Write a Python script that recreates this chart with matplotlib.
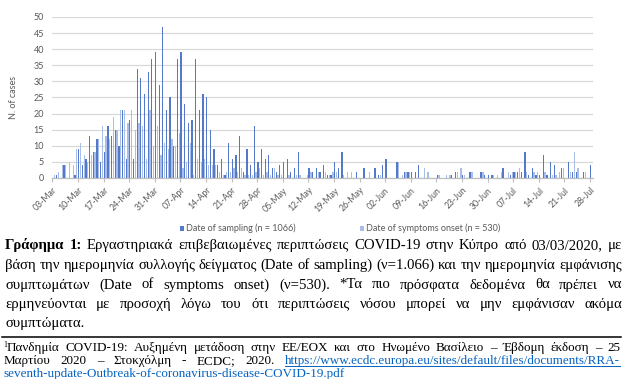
import datetime as dt
import matplotlib
matplotlib.use("Agg")
import matplotlib.pyplot as plt
import numpy as np
from matplotlib.patches import Rectangle
from matplotlib.lines import Line2D

# ---------------- data ----------------
start_date = dt.date(2020, 3, 3)
n_days = 148  # 03-Mar .. 28-Jul

sampling = [
    0, 1, 0, 4, 0, 0, 1, 9, 4, 6, 13, 8, 12, 5,
    8, 16, 13, 15, 10, 21, 6, 18, 6, 34, 31, 26, 33, 37,
    39, 29, 47, 21, 25, 10, 37, 39, 23, 17, 18, 37, 21, 26,
    25, 15, 9, 4, 6, 1, 11, 6, 7, 13, 2, 9, 4, 16,
    5, 9, 6, 7, 3, 2, 4, 5, 6, 2, 3, 8, 0, 0,
    3, 2, 3, 2, 4, 1, 1, 5, 3, 8, 0, 0, 0, 2,
    0, 3, 0, 0, 3, 1, 4, 6, 0, 0, 5, 0, 2, 2,
    2, 2, 4, 0, 0, 0, 0, 1, 0, 0, 0, 1, 2, 0,
    1, 0, 2, 0, 0, 2, 1, 1, 1, 0, 0, 3, 0, 1,
    2, 2, 2, 8, 1, 3, 1, 1, 7, 1, 5, 4, 0, 3,
    0, 5, 2, 2, 0, 2, 0, 4,
]
onset = [
    1, 2, 4, 4, 5, 4, 9, 11, 7, 5, 7, 8, 12, 16,
    13, 12, 19, 15, 21, 21, 17, 21, 15, 17, 16, 6, 21, 10,
    16, 7, 11, 9, 12, 10, 14, 3, 5, 11, 1, 6, 5, 6,
    4, 4, 4, 2, 1, 2, 2, 3, 2, 3, 1, 1, 1, 2,
    3, 1, 2, 1, 3, 1, 1, 0, 1, 0, 1, 1, 0, 1,
    2, 0, 2, 0, 2, 1, 2, 2, 0, 1, 2, 2, 0, 0,
    0, 0, 2, 0, 0, 1, 0, 0, 0, 0, 5, 1, 2, 2,
    0, 0, 0, 3, 2, 0, 0, 1, 0, 1, 1, 0, 2, 3,
    1, 0, 2, 0, 0, 2, 0, 0, 1, 1, 2, 0, 2, 2,
    2, 3, 0, 2, 0, 2, 2, 0, 2, 0, 1, 1, 2, 3,
    0, 2, 8, 3, 0, 2, 0, 0,
]
series_labels = ["Date of sampling (n = 1066)", "Date of symptoms onset (n = 530)"]
y_label = "N. of cases"
y_ticks = list(range(0, 51, 5))
tick_every = 7

caption_lines = [
    [("Γράφημα", "b"), ("1:", "b"), ("Εργαστηριακά", ""), ("επιβεβαιωμένες", ""), ("περιπτώσεις", ""),
     ("COVID-19", ""), ("στην", ""), ("Κύπρο", ""), ("από", ""), ("03/03/2020,", ""), ("με", "")],
    "βάση την ημερομηνία συλλογής δείγματος (Date of sampling) (ν=1.066) και την ημερομηνία εμφάνισης",
    "συμπτωμάτων (Date of symptoms onset) (ν=530). *Τα πιο πρόσφατα δεδομένα θα πρέπει να",
    "ερμηνεύονται με προσοχή λόγω του ότι περιπτώσεις νόσου μπορεί να μην εμφάνισαν ακόμα",
    "συμπτώματα.",
]
footnote_line1 = "Πανδημία COVID-19: Αυξημένη μετάδοση στην ΕΕ/ΕΟΧ και στο Ηνωμένο Βασίλειο – Έβδομη έκδοση – 25"
footnote_line2 = "Μαρτίου 2020 – Στοκχόλμη - ECDC; 2020."
footnote_url1 = "https://www.ecdc.europa.eu/sites/default/files/documents/RRA-"
footnote_url2 = "seventh-update-Outbreak-of-coronavirus-disease-COVID-19.pdf"

# ---------------- figure ----------------
W, H = 633, 379
fig = plt.figure(figsize=(W / 100, H / 100), dpi=100)
fig.patch.set_facecolor("white")

def fx(px):
    return px / W

def fy(py):
    return 1 - py / H

SANS = ["Lato", "DejaVu Sans"]
SERIF = ["Liberation Serif", "DejaVu Serif"]
GREY = "#595959"
C_SAMP = "#5479C8"
C_ONS = "#A9BEE8"

x0_px, x1_px = 52.3, 593.0
y0_px, y50_px = 178.0, 17.0
ax = fig.add_axes([fx(x0_px), fy(y0_px), (x1_px - x0_px) / W, (y0_px - y50_px) / H])

x = np.arange(n_days)
ax.bar(x + 0.2, sampling, width=0.34, color=C_SAMP, linewidth=0, zorder=3)
ax.bar(x + 0.7, onset, width=0.34, color=C_ONS, linewidth=0, zorder=3)

ax.set_xlim(0, 147.8)
ax.set_ylim(0, 50)
ax.set_yticks(y_ticks)
ax.yaxis.grid(True, color="#D9D9D9", linewidth=0.9, zorder=0)
ax.set_axisbelow(True)
for s in ["top", "right", "left"]:
    ax.spines[s].set_visible(False)
ax.spines["bottom"].set_color("#BFBFBF")
ax.spines["bottom"].set_linewidth(0.9)

tick_pos = list(range(0, n_days, tick_every))
tick_lbl = [(start_date + dt.timedelta(days=i)).strftime("%d-%b") for i in tick_pos]
ax.set_xticks(tick_pos)
ax.set_xticklabels(tick_lbl, rotation=45, ha="right", va="top", rotation_mode="anchor",
                   fontsize=6.3, family=SANS, color=GREY)
ax.tick_params(axis="x", length=3, color="#BFBFBF", width=0.8, pad=2.5)
ax.tick_params(axis="y", length=0, pad=6, labelsize=6.5, labelcolor=GREY)
for t in ax.get_yticklabels():
    t.set_family(SANS)

fig.text(fx(14), fy(97), y_label, rotation=90, ha="center", va="center",
         fontsize=6.5, family=SANS, color=GREY)

# legend
for (lx, col, lab) in [(179.5, C_SAMP, series_labels[0]), (359.5, C_ONS, series_labels[1])]:
    fig.patches.append(Rectangle((fx(lx), fy(230.5)), 4.5 / W, 4.5 / H,
                                 transform=fig.transFigure, color=col, linewidth=0))
    fig.text(fx(lx + 7), fy(228.5), lab, ha="left", va="center", fontsize=6.5,
             family=SANS, color=GREY)

# ---------------- justified text ----------------
renderer = fig.canvas.get_renderer()

def text_width(s, size, weight="normal"):
    t = fig.text(0, 0, s, fontsize=size, family=SERIF, fontweight=weight)
    w = t.get_window_extent(renderer).width
    t.remove()
    return w

def draw_line(words, baseline, xl, xr, size, justify=True):
    ws = []
    for w in words:
        ws.append(text_width(w["s"], w.get("size", size), w.get("weight", "normal")))
    space = text_width("a a", size) - text_width("aa", size)
    n_gaps = sum(1 for w in words[:-1] if not w.get("join"))
    if justify and n_gaps > 0:
        gap = (xr - xl - sum(ws)) / n_gaps
    else:
        gap = space
    cx = xl
    for w, wd in zip(words, ws):
        col = w.get("color", "black")
        fig.text(fx(cx), fy(baseline - w.get("dy", 0)), w["s"], fontsize=w.get("size", size),
                 family=SERIF, fontweight=w.get("weight", "normal"), color=col,
                 ha="left", va="baseline")
        if w.get("underline"):
            fig.add_artist(Line2D([fx(cx), fx(cx + wd)], [fy(baseline + 2), fy(baseline + 2)],
                                  transform=fig.transFigure, color=col, linewidth=0.7))
        cx += wd + (0 if w.get("join") else gap)

# caption font size: fit the natural width of line 2 into the column
col_l, col_r = 5.0, 622.0
ref = text_width(caption_lines[1], 10)
cap_size = 10 * (col_r - col_l) / ref

cap_base = [249.3, 269.0, 288.5, 307.8, 326.5]
for i, line in enumerate(caption_lines):
    if isinstance(line, list):
        words = [{"s": s, "weight": "bold" if f == "b" else "normal"} for s, f in line]
    else:
        words = [{"s": s} for s in line.split(" ")]
    draw_line(words, cap_base[i], col_l, col_r, cap_size, justify=(i < len(caption_lines) - 1))

# rule
fig.add_artist(Line2D([fx(2), fx(621)], [fy(337), fy(337)], transform=fig.transFigure,
                      color="black", linewidth=1.1))

# footnote font size: a little smaller than natural fit of line 2
fn_l, fn_r = 3.5, 620.0
fn_ref = text_width(footnote_line2 + " " + footnote_url1, 10)
fn_size = 10 * (fn_r - fn_l) / fn_ref * 0.92
blue = "#0563C1"
fn1 = [{"s": "1", "size": fn_size * 0.62, "dy": 4, "join": True}] + \
      [{"s": s} for s in footnote_line1.split(" ")]
draw_line(fn1, 351.0, 3.0, fn_r, fn_size)
fn2 = [{"s": s} for s in footnote_line2.split(" ")] + \
      [{"s": footnote_url1, "color": blue, "underline": True}]
draw_line(fn2, 364.3, fn_l, fn_r, fn_size)
draw_line([{"s": footnote_url2, "color": blue, "underline": True}], 377.5, fn_l, fn_r,
          fn_size, justify=False)

fig.savefig("out.png", dpi=100, facecolor="white")
